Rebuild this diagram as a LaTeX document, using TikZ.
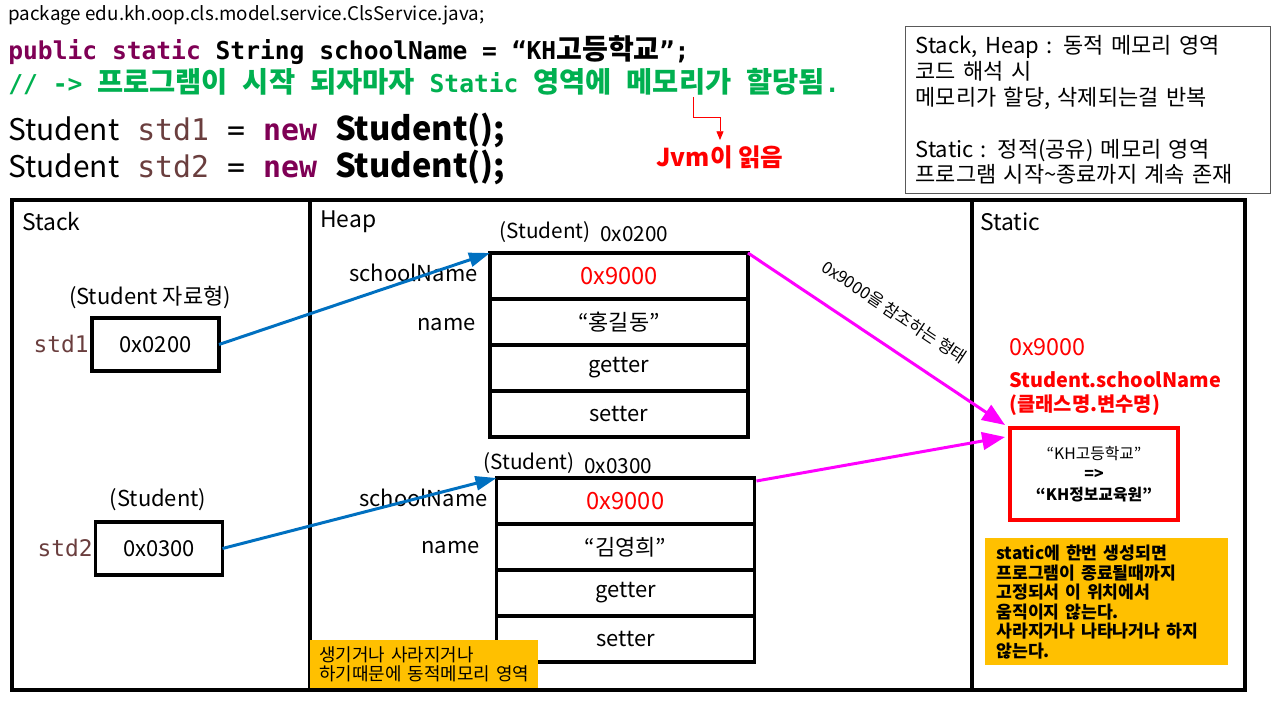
\documentclass[tikz,border=0pt]{standalone}
\usepackage{fontspec}
\setmainfont{Noto Sans CJK KR}
\setmonofont{DejaVu Sans Mono}
\newfontfamily\krfont{Noto Sans CJK KR}
\usetikzlibrary{arrows.meta, positioning, calc}
\definecolor{kwcolor}{HTML}{7F0055}
\definecolor{varcolor}{HTML}{6A3E3E}
\definecolor{cmtcolor}{HTML}{00B050}
\definecolor{addrred}{HTML}{FF0000}
\definecolor{refblue}{HTML}{0070C0}
\definecolor{refpink}{HTML}{FF00FF}
\definecolor{notefill}{HTML}{FFC000}
\definecolor{infoframe}{HTML}{595959}

\begin{document}
\begin{tikzpicture}[
    x=0.02cm, y=-0.02cm,
    code/.style={anchor=west, inner sep=0pt, font=\fontsize{14}{16}\selectfont\ttfamily\bfseries},
    bigcode/.style={anchor=west, inner sep=0pt, font=\fontsize{17}{20}\selectfont},
    lbl/.style={inner sep=0pt, font=\fontsize{12.5}{14}\selectfont},
    objhead/.style={inner sep=0pt, font=\fontsize{11.8}{14}\selectfont},
    title/.style={inner sep=0pt, anchor=west, font=\fontsize{13}{15}\selectfont},
    area/.style={draw, line width=1.8pt, outer sep=0pt, minimum height=9.8cm},
    cell/.style={draw, line width=2.2pt, outer sep=0pt, minimum width=5.16cm,
        minimum height=0.92cm, font=\fontsize{12.5}{14}\selectfont},
    varbox/.style={draw, line width=1.8pt, outer sep=0pt, minimum width=2.54cm,
        minimum height=1.06cm, font=\fontsize{12.5}{14}\selectfont},
    note/.style={fill=notefill, align=left, anchor=north west, inner xsep=0.22cm},
    ref/.style={draw=refblue, line width=1.7pt, -{Triangle[length=12pt,width=8pt]}},
    share/.style={draw=refpink, line width=1.7pt, -{Triangle[length=13pt,width=10pt]}},
]
\useasboundingbox (0,0) rectangle (1278,705);

% Source code
\node[anchor=west, inner sep=0pt, font=\fontsize{10.7}{12}\selectfont] (pkg) at (8,15)
    {package edu.kh.oop.cls.model.service.ClsService.java;};
\node[code] (decl) at (8,50)
    {\textcolor{kwcolor}{public static} String schoolName = “KH{\krfont\fontsize{16}{18}\selectfont 고등학교}”;};
\node[code, text=cmtcolor] (cmt) at (8,82)
    {// -> {\krfont\fontsize{16.2}{18}\selectfont 프로그램이} {\krfont\fontsize{16.2}{18}\selectfont 시작}
     {\krfont\fontsize{16.2}{18}\selectfont 되자마자} Static {\krfont\fontsize{16.2}{18}\selectfont 영역에}
     {\krfont\fontsize{16.2}{18}\selectfont 메모리가} {\krfont\fontsize{16.2}{18}\selectfont 할당됨}.};
\node[bigcode] (new1) at (8,130)
    {Student\ttfamily{} {\color{varcolor}std1} = {\bfseries\color{kwcolor}new} {\rmfamily\bfseries\fontsize{18.6}{20}\selectfont Student();}};
\node[bigcode] (new2) at (8,167)
    {Student\ttfamily{} {\color{varcolor}std2} = {\bfseries\color{kwcolor}new} {\rmfamily\bfseries\fontsize{18.6}{20}\selectfont Student();}};

% Jvm note
\node[inner sep=0pt, text=addrred, font=\fontsize{14}{16}\selectfont\bfseries] (jvm) at (720,157) {Jvm이 읽음};
\coordinate (jvmfrom) at (693,97);
\draw[addrred, line width=0.5pt, -{Triangle[length=5pt,width=4pt]}] (jvmfrom) -- ++(0,20) -| ($(jvm.north)+(0,-5)$);

% Memory summary
\node[draw=infoframe, line width=0.8pt, anchor=north west, align=left,
      minimum width=7.3cm, minimum height=3.34cm, text width=6.9cm,
      font=\fontsize{12.5}{14.7}\selectfont] (info) at (905,26) {
    Stack, Heap : 동적 메모리 영역\\
    코드 해석 시\\
    메모리가 할당, 삭제되는걸 반복\\[14.7pt]
    Static : 정적(공유) 메모리 영역\\
    프로그램 시작\textasciitilde 종료까지 계속 존재
};

% Memory areas
\node[area, minimum width=5.96cm] (stack) at (161,445) {};
\node[area, minimum width=13.24cm] (heap) at (641,445) {};
\node[area, minimum width=5.46cm] (static) at (1108.5,445) {};
\node[title] (stacklbl) at (22,222) {Stack};
\node[title] (heaplbl) at (320,222) {Heap};
\node[title] (staticlbl) at (980,222) {Static};

% Stack variables
\node[lbl] (type1) at (150,297) {(Student 자료형)};
\node[varbox] (st1) at (155.5,344.5) {0x0200};
\node[lbl, anchor=east, font=\fontsize{13}{15}\selectfont\ttfamily, text=varcolor] (st1name) at (89,344) {std1};
\node[lbl] (type2) at (158,500) {(Student)};
\node[varbox] (st2) at (159,548.5) {0x0300};
\node[lbl, anchor=east, font=\fontsize{13}{15}\selectfont\ttfamily, text=varcolor] (st2name) at (93,548) {std2};

% Heap object 0x0200
\node[objhead, anchor=east] (o1type) at (591,232) {(Student)};
\node[objhead, anchor=west] (o1addr) at (600,234) {0x0200};
\node[cell] (o1a) at (619,276) {\textcolor{addrred}{\fontsize{13.5}{15}\selectfont 0x9000}};
\node[cell, below=0pt of o1a] (o1b) {“홍길동”};
\node[cell, below=0pt of o1b] (o1c) {getter};
\node[cell, below=0pt of o1c] (o1d) {setter};
\node[lbl, anchor=east] (o1f1) at (478,273) {schoolName};
\node[lbl, anchor=east] (o1f2) at (476,325) {name};

% Heap object 0x0300
\node[objhead, anchor=east] (o2type) at (575,463) {(Student)};
\node[objhead, anchor=west] (o2addr) at (584,466) {0x0300};
\node[cell] (o2a) at (625.5,501) {\textcolor{addrred}{\fontsize{13.5}{15}\selectfont 0x9000}};
\node[cell, below=0pt of o2a] (o2b) {“김영희”};
\node[cell, below=0pt of o2b] (o2c) {getter};
\node[cell, below=0pt of o2c] (o2d) {setter};
\node[lbl, anchor=east] (o2f1) at (488,498) {schoolName};
\node[lbl, anchor=east] (o2f2) at (480,548) {name};

% Static area
\node[lbl, anchor=west, text=addrred, font=\fontsize{13.3}{15}\selectfont] (saddr) at (1009,347) {0x9000};
\node[lbl, anchor=west, text=addrred, font=\fontsize{11.3}{13}\selectfont\bfseries] (sname) at (1009,380) {Student.schoolName};
\node[lbl, anchor=west, text=addrred, font=\fontsize{11.3}{13}\selectfont\bfseries] (sform) at (1009,405) {(클래스명.변수명)};
\node[draw=addrred, line width=2.3pt, outer sep=0pt, minimum width=3.36cm, minimum height=1.84cm,
      align=center, font=\fontsize{9}{11.6}\selectfont] (sbox) at (1094,474)
    {“KH고등학교”\\ \textbf{=>}\\ \textbf{“KH정보교육원”}};

% References
\draw[ref] (st1.east) -- (o1a.north west);
\draw[ref] (st2.east) -- (o2a.north west);
\draw[share] (o1a.north east) -- ($(sbox.north west)+(-5,-3)$)
    node[midway, sloped, above=10pt, font=\fontsize{9.5}{11}\selectfont] (reflbl) {0x9000을 참조하는 형태};
\draw[share] ($(o2a.north east)+(2,3)$) -- ($(sbox.north west)+(-5,9)$);

% Notes
\node[note, minimum width=4.86cm, minimum height=2.54cm, text width=4.42cm,
      font=\fontsize{9.8}{11.1}\selectfont\bfseries] (staticnote) at (985,538) {
    static에 한번 생성되면\\
    프로그램이 종료될때까지\\
    고정되서 이 위치에서\\
    움직이지 않는다.\\
    사라지거나 나타나거나 하지\\
    않는다.
};
\node[note, minimum width=4.56cm, minimum height=0.96cm, text width=4.2cm, inner xsep=0.18cm,
      font=\fontsize{10.2}{10.8}\selectfont] (heapnote) at (310,640) {
    생기거나 사라지거나\\
    하기때문에 동적메모리 영역
};

\end{tikzpicture}
\end{document}
